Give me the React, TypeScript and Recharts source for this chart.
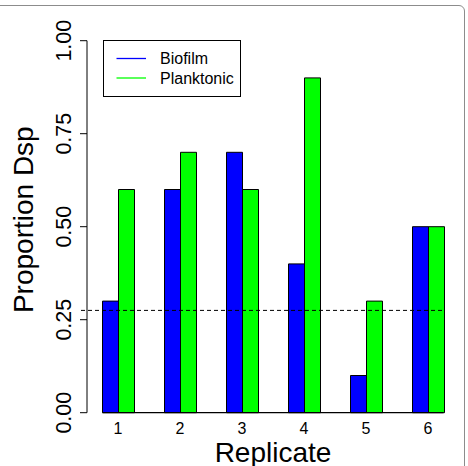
import { Bar, BarChart, Legend, ReferenceLine, XAxis, YAxis } from 'recharts'

const replicates = ['1', '2', '3', '4', '5', '6']
const biofilm = [0.3, 0.6, 0.7, 0.4, 0.1, 0.5]
const planktonic = [0.6, 0.7, 0.6, 0.9, 0.3, 0.5]
const yTicks = [0, 0.25, 0.5, 0.75, 1]
const threshold = 0.275

const BLUE = '#0000ff'
const GREEN = '#00ff00'
const FONT = '"Liberation Sans", Arial, Helvetica, sans-serif'

const rows = replicates.map((rep, i) => ({
  rep,
  biofilm: biofilm[i],
  planktonic: planktonic[i],
}))

// inset of the outer bar edges inside each category band (matches barCategoryGap)
const GAP_FRAC = 0.25

function YTick({ x, y, payload }: any) {
  return (
    <text
      transform={`translate(${x - 16.5}, ${y}) rotate(-90)`}
      textAnchor="middle"
      dominantBaseline="central"
      fontSize={21.5}
      fontFamily={FONT}
      fill="#000"
    >
      {Number(payload.value).toFixed(2)}
    </text>
  )
}

function LegendBox({ payload }: any) {
  const items = payload ?? []
  return (
    <svg width={139} height={57} style={{ display: 'block' }}>
      <rect x={0.5} y={0.5} width={137} height={56} fill="#fff" stroke="#000" strokeWidth={1} />
      {items.map((it: any, i: number) => (
        <g key={it.value}>
          <line x1={13.5} x2={43} y1={18.5 + i * 19.5} y2={18.5 + i * 19.5} stroke={it.color} strokeWidth={1.3} />
          <text x={57} y={24.3 + i * 19.5} fontSize={16} fontFamily={FONT} fill="#000">
            {it.value}
          </text>
        </g>
      ))}
    </svg>
  )
}

// baseline that runs from the first bar's left edge to the last bar's right edge
function BaseLine({ x1, x2, y1 }: any) {
  const band = (x2 - x1) / replicates.length
  return <line x1={x1 + band * GAP_FRAC} x2={x2 - band * GAP_FRAC} y1={y1} y2={y1} stroke="#000" strokeWidth={1.2} />
}

function DashLine({ x1, x2, y1 }: any) {
  const band = (x2 - x1) / replicates.length
  return (
    <line
      x1={x1 - 6}
      x2={x2 - band * GAP_FRAC}
      y1={y1}
      y2={y1}
      stroke="#000"
      strokeWidth={1}
      strokeDasharray="4 3"
    />
  )
}

export default function App() {
  return (
    <div
      style={{
        position: 'absolute',
        left: 0,
        top: 0,
        width: 468,
        height: 466,
        overflow: 'hidden',
        background: '#fff',
      }}
    >
      <div
        style={{
          position: 'absolute',
          left: -20,
          top: 5,
          width: 485,
          height: 520,
          boxSizing: 'border-box',
          border: '1.5px solid #8c8c8c',
          borderRadius: 6,
        }}
      />
      <BarChart
        width={468}
        height={466}
        data={rows}
        margin={{ top: 40.7, right: 9, bottom: 0, left: 0 }}
        barCategoryGap="25%"
        barGap={0}
        style={{ position: 'absolute', left: 0, top: 0 }}
      >
        <XAxis
          dataKey="rep"
          height={53.3}
          axisLine={false}
          tickLine={false}
          tickSize={6}
          tickMargin={3.5}
          tick={{ fontSize: 16, fill: '#000', fontFamily: FONT }}
          label={{
            value: 'Replicate',
            position: 'insideBottom',
            offset: 4.5,
            style: { fontSize: 28, fill: '#000', fontFamily: FONT },
          }}
        />
        <YAxis
          width={87}
          domain={[0, 1]}
          ticks={yTicks}
          stroke="#000"
          tickSize={7}
          tickMargin={0}
          tickLine={{ stroke: '#000' }}
          axisLine={{ stroke: '#000' }}
          tick={<YTick />}
          label={{
            value: 'Proportion Dsp',
            angle: -90,
            position: 'insideLeft',
            offset: 0,
            dx: 23,
            dy: -7,
            style: { fontSize: 28, fill: '#000', fontFamily: FONT, textAnchor: 'middle' },
          }}
        />
        <Legend
          layout="horizontal"
          verticalAlign="middle"
          align="center"
          wrapperStyle={{ left: 102.5, top: 40.2, width: 139, height: 57 }}
          content={<LegendBox />}
        />
        <Bar dataKey="biofilm" name="Biofilm" fill={BLUE} stroke="#000" strokeWidth={1} isAnimationActive={false} />
        <Bar dataKey="planktonic" name="Planktonic" fill={GREEN} stroke="#000" strokeWidth={1} isAnimationActive={false} />
        <ReferenceLine y={0} shape={<BaseLine />} />
        <ReferenceLine y={threshold} shape={<DashLine />} />
      </BarChart>
    </div>
  )
}
